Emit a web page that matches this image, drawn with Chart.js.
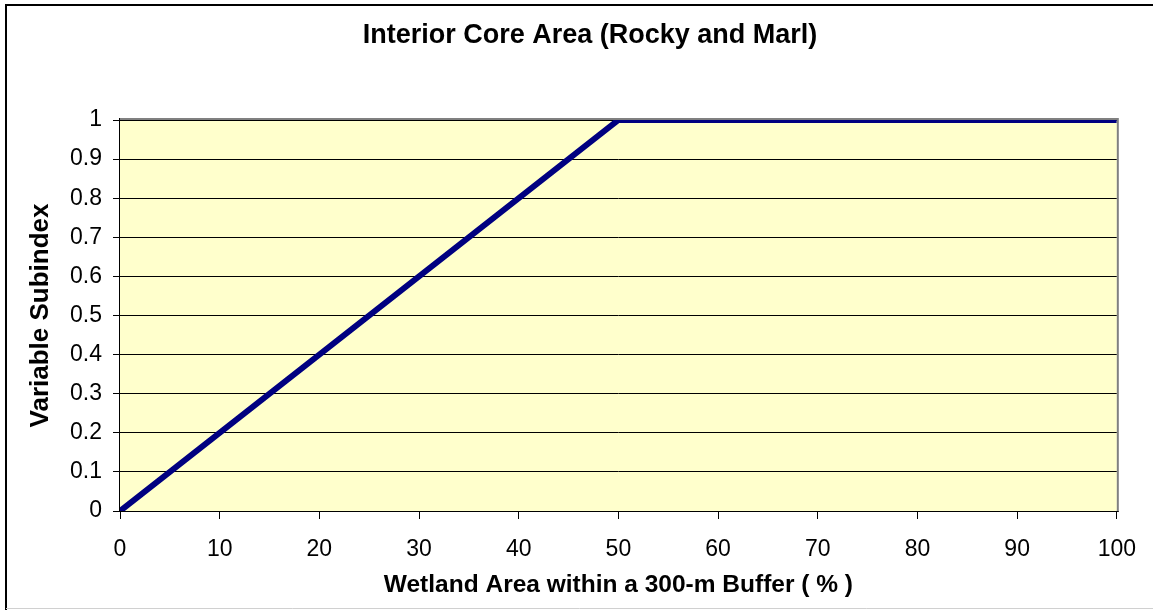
<!DOCTYPE html>
<html>
<head>
<meta charset="utf-8">
<script src="https://cdn.jsdelivr.net/npm/chart.js@4.4.1/dist/chart.umd.min.js"></script>
<style>
  html, body { margin: 0; padding: 0; background: #fff; }
  canvas { display: block; }
</style>
</head>
<body>
<canvas id="coreChart" width="1153" height="610"></canvas>
<script>
// --- Chart data ---
const wetlandPct = [0, 50, 100];
const subindex = [0, 1, 1];
const xTickLabels = ['0', '10', '20', '30', '40', '50', '60', '70', '80', '90', '100'];
const yTickLabels = ['0', '0.1', '0.2', '0.3', '0.4', '0.5', '0.6', '0.7', '0.8', '0.9', '1'];

const FONT = "'Liberation Sans', Arial, sans-serif";

// Frame, plot fill and plot border (Excel-style)
const framePlugin = {
    id: 'frame',
    afterLayout(chart) {
        // the original chart object runs past the right edge of the picture,
        // so its title sits a bit right of the visible centre
        chart.titleBlock.left = 0;
        chart.titleBlock.right = 1180;
        chart.titleBlock.width = 1180;
    },
    beforeDraw(chart) {
        const { ctx, chartArea: a } = chart;
        ctx.save();
        ctx.fillStyle = '#fff';
        ctx.fillRect(0, 0, chart.width, chart.height);
        ctx.fillStyle = '#FFFFCC';
        ctx.fillRect(a.left, a.top, a.right - a.left, a.bottom - a.top);
        // outer chart border
        ctx.strokeStyle = '#000';
        ctx.lineWidth = 2;
        ctx.beginPath();
        ctx.moveTo(6, chart.height);
        ctx.lineTo(6, 5);
        ctx.lineTo(chart.width, 5);
        ctx.stroke();
        ctx.strokeStyle = '#d0d0d0';
        ctx.lineWidth = 1;
        ctx.beginPath();
        ctx.moveTo(6, 608.5);
        ctx.lineTo(chart.width, 608.5);
        ctx.stroke();
        ctx.restore();
    },
    afterDatasetsDraw(chart) {
        const { ctx, chartArea: a } = chart;
        ctx.save();
        ctx.strokeStyle = '#808080';
        ctx.lineWidth = 2;
        ctx.beginPath();
        ctx.moveTo(a.left, a.top - 1);
        ctx.lineTo(a.right + 1, a.top - 1);
        ctx.lineTo(a.right + 1, a.bottom);
        ctx.stroke();
        ctx.strokeStyle = '#000';
        ctx.lineWidth = 1;
        ctx.beginPath();
        ctx.moveTo(a.left - 0.5, a.top - 2);
        ctx.lineTo(a.left - 0.5, a.bottom + 0.5);
        ctx.lineTo(a.right + 2, a.bottom + 0.5);
        ctx.stroke();
        ctx.restore();
    }
};

new Chart(document.getElementById('coreChart').getContext('2d'), {
    type: 'scatter',
    data: {
        datasets: [{
            data: wetlandPct.map((x, i) => ({ x: x, y: subindex[i] })),
            showLine: true,
            borderColor: '#000080',
            borderWidth: 6,
            pointRadius: 0,
            tension: 0,
            clip: 0
        }]
    },
    options: {
        responsive: false,
        animation: false,
        devicePixelRatio: 1,
        layout: { padding: { left: 0, right: 31, top: 0, bottom: 0 } },
        plugins: {
            legend: { display: false },
            tooltip: { enabled: false },
            title: {
                display: true,
                text: 'Interior Core Area (Rocky and Marl)',
                color: '#000',
                font: { family: FONT, size: 27, weight: 'bold', lineHeight: 1.2 },
                padding: { top: 19, bottom: 68.6 }
            }
        },
        scales: {
            x: {
                type: 'linear',
                min: 0, max: 100,
                afterFit: (s) => { s.height = 99; },
                ticks: {
                    stepSize: 10,
                    color: '#000',
                    padding: 17,
                    maxRotation: 0,
                    font: { family: FONT, size: 23 },
                    callback: (v, i) => xTickLabels[i]
                },
                grid: { drawOnChartArea: false, drawTicks: true, tickLength: 8, tickColor: '#000' },
                border: { display: false },
                title: {
                    display: true,
                    text: 'Wetland Area within a 300-m Buffer ( % )',
                    color: '#000',
                    font: { family: FONT, size: 24.5, weight: 'bold', lineHeight: 1.2 },
                    padding: { top: 0, bottom: 10 }
                }
            },
            y: {
                min: 0, max: 1,
                afterFit: (s) => { s.width = 120; },
                ticks: {
                    stepSize: 0.1,
                    color: '#000',
                    padding: 11,
                    font: { family: FONT, size: 23 },
                    callback: (v, i) => yTickLabels[i]
                },
                grid: { color: '#000', lineWidth: 1, drawTicks: true, tickLength: 7, tickColor: '#000' },
                border: { display: false },
                title: {
                    display: true,
                    text: 'Variable Subindex',
                    color: '#000',
                    font: { family: FONT, size: 26, weight: 'bold', lineHeight: 1.2 },
                    padding: { top: 25, bottom: 0 }
                }
            }
        }
    },
    plugins: [framePlugin]
});
</script>
</body>
</html>
